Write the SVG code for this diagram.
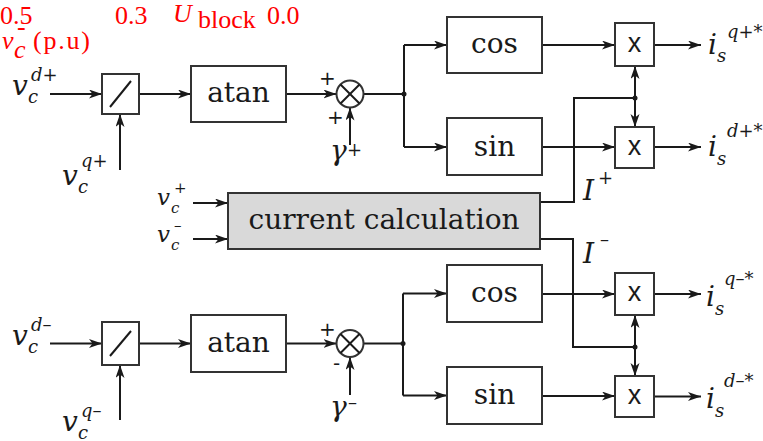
<svg xmlns="http://www.w3.org/2000/svg" width="763" height="441" viewBox="0 0 763 441">
<defs>
<marker id="ah" markerUnits="userSpaceOnUse" markerWidth="14" markerHeight="10" refX="13" refY="4.5" orient="auto-start-reverse">
<path d="M0,0 L13,4.5 L0,9 L3.5,4.5 z" fill="#1a1a1a"/>
</marker>
</defs>
<style>
.box{fill:#fff;stroke:#333;stroke-width:2}
.calc{fill:#d9d9d9;stroke:#333;stroke-width:2}
.ln{fill:none;stroke:#1a1a1a;stroke-width:2}
.ar{fill:none;stroke:#1a1a1a;stroke-width:2;marker-end:url(#ah)}
.lbl{font-family:'DejaVu Serif','Liberation Serif','Noto Serif',serif;font-size:28px;fill:#1a1a1a;text-anchor:middle}
.mul{font-family:'Liberation Sans',Arial,sans-serif;font-size:27px;fill:#1a1a1a;text-anchor:middle}
.m{font-family:'DejaVu Serif','Liberation Serif',serif;font-style:italic;font-size:28px;fill:#1a1a1a}
.ms{font-family:'DejaVu Serif','Liberation Serif',serif;font-style:italic;font-size:18px;fill:#1a1a1a}
.mv{font-family:'DejaVu Serif','Liberation Serif',serif;font-style:italic;font-size:23px;fill:#1a1a1a}
.mvs{font-family:'DejaVu Serif','Liberation Serif',serif;font-style:italic;font-size:15px;fill:#1a1a1a}
.up{font-style:normal}
.sgn{font-family:'DejaVu Sans','Liberation Sans',sans-serif;font-size:20px;fill:#1a1a1a;text-anchor:middle}
.red{font-family:'Liberation Serif','Times New Roman','DejaVu Serif',serif;font-size:26px;fill:#ff0000}
.dot{fill:#1a1a1a}
</style>

<g id="red-labels">
<text class="red" x="0" y="24">0.5</text>
<text class="red" x="115" y="24">0.3</text>
<text class="red" x="173" y="22" font-size="30" font-style="italic">U</text>
<text class="red" x="198" y="28" font-size="22">block</text>
<text class="red" x="267" y="24">0.0</text>
<text class="red" x="2" y="49" font-style="italic">v</text>
<text class="red" x="14" y="58" font-size="17" font-style="italic">c</text>
<text class="red" x="17" y="35" font-size="16">-</text>
<text class="red" x="33" y="49" textLength="57">(p.u)</text>
</g>

<g id="connectors">
<line class="ar" x1="50" y1="94" x2="102" y2="94"/>
<line class="ar" x1="120" y1="170" x2="120" y2="114"/>
<line class="ar" x1="139" y1="94" x2="191" y2="94"/>
<line class="ar" x1="286" y1="94" x2="336.5" y2="94"/>
<line class="ar" x1="350" y1="145" x2="350" y2="107.5"/>
<line class="ln" x1="363.5" y1="94" x2="404" y2="94"/>
<polyline class="ln" points="404,45 404,147"/>
<line class="ar" x1="404" y1="45" x2="447" y2="45"/>
<line class="ar" x1="404" y1="147" x2="447" y2="147"/>
<line class="ar" x1="542" y1="45" x2="615" y2="45"/>
<line class="ar" x1="542" y1="147" x2="615" y2="147"/>
<line class="ar" x1="654" y1="45" x2="701" y2="45"/>
<line class="ar" x1="654" y1="147" x2="701" y2="147"/>
<polyline class="ln" points="540,202 574,202 574,98 635,98"/>
<line class="ar" x1="635" y1="98" x2="635" y2="66"/>
<line class="ar" x1="635" y1="98" x2="635" y2="127"/>
<line class="ar" x1="193" y1="203" x2="228" y2="203"/>
<line class="ar" x1="193" y1="239" x2="228" y2="239"/>
<polyline class="ln" points="540,239 573,239 573,347 635,347"/>
<line class="ar" x1="635" y1="347" x2="635" y2="315"/>
<line class="ar" x1="635" y1="347" x2="635" y2="376"/>
<line class="ar" x1="50" y1="343.5" x2="102" y2="343.5"/>
<line class="ar" x1="120" y1="420" x2="120" y2="365"/>
<line class="ar" x1="139" y1="343.5" x2="191" y2="343.5"/>
<line class="ar" x1="286" y1="343.5" x2="336.5" y2="343.5"/>
<line class="ar" x1="350" y1="395" x2="350" y2="357"/>
<line class="ln" x1="363.5" y1="343.5" x2="403" y2="343.5"/>
<polyline class="ln" points="403,293.5 403,395.5"/>
<line class="ar" x1="403" y1="293.5" x2="447" y2="293.5"/>
<line class="ar" x1="403" y1="395.5" x2="447" y2="395.5"/>
<line class="ar" x1="542" y1="294" x2="615" y2="294"/>
<line class="ar" x1="542" y1="396" x2="615" y2="396"/>
<line class="ar" x1="654" y1="294" x2="701" y2="294"/>
<line class="ar" x1="654" y1="396.5" x2="701" y2="396.5"/>
<circle class="dot" cx="404" cy="94" r="2.5"/>
<circle class="dot" cx="635" cy="98" r="2.5"/>
<circle class="dot" cx="403" cy="343.5" r="2.5"/>
<circle class="dot" cx="635" cy="347" r="2.5"/>
</g>

<g id="div-top">
<rect class="box" x="102" y="74" width="37" height="40"/>
<line class="ln" x1="110" y1="107" x2="131" y2="81"/>
</g>
<g id="atan-top">
<rect class="box" x="191" y="66" width="95" height="56"/>
<text class="lbl" x="238.5" y="102">atan</text>
</g>
<g id="sum-top">
<circle class="box" cx="350" cy="94" r="13.5"/>
<line class="ln" x1="340.5" y1="84.5" x2="359.5" y2="103.5"/>
<line class="ln" x1="359.5" y1="84.5" x2="340.5" y2="103.5"/>
<text class="sgn" x="327.5" y="84.5">+</text>
<text class="sgn" x="335.5" y="123.5">+</text>
</g>
<g id="cos-top">
<rect class="box" x="447" y="17" width="95" height="56"/>
<text class="lbl" x="494.5" y="53">cos</text>
</g>
<g id="sin-top">
<rect class="box" x="447" y="118" width="95" height="57"/>
<text class="lbl" x="494.5" y="156">sin</text>
</g>
<g id="mul-q-plus">
<rect class="box" x="615" y="23" width="39" height="43"/>
<text class="mul" x="634.5" y="52">x</text>
</g>
<g id="mul-d-plus">
<rect class="box" x="615" y="127" width="39" height="41"/>
<text class="mul" x="634.5" y="155">x</text>
</g>
<g id="current-calc">
<rect class="calc" x="228" y="193" width="312" height="56"/>
<text class="lbl" x="384" y="229">current calculation</text>
</g>
<g id="div-bot">
<rect class="box" x="102" y="322" width="37" height="43"/>
<line class="ln" x1="110" y1="356" x2="131" y2="331"/>
</g>
<g id="atan-bot">
<rect class="box" x="191" y="315" width="95" height="57"/>
<text class="lbl" x="238.5" y="352">atan</text>
</g>
<g id="sum-bot">
<circle class="box" cx="350" cy="343.5" r="13.5"/>
<line class="ln" x1="340.5" y1="334" x2="359.5" y2="353"/>
<line class="ln" x1="359.5" y1="334" x2="340.5" y2="353"/>
<text class="sgn" x="327.5" y="335.5">+</text>
<text class="sgn" x="336.5" y="370">-</text>
</g>
<g id="cos-bot">
<rect class="box" x="447" y="265" width="95" height="57"/>
<text class="lbl" x="494.5" y="302">cos</text>
</g>
<g id="sin-bot">
<rect class="box" x="447" y="367" width="95" height="57"/>
<text class="lbl" x="494.5" y="404">sin</text>
</g>
<g id="mul-q-minus">
<rect class="box" x="615" y="273" width="39" height="42"/>
<text class="mul" x="634.5" y="301">x</text>
</g>
<g id="mul-d-minus">
<rect class="box" x="615" y="376" width="39" height="41"/>
<text class="mul" x="634.5" y="404">x</text>
</g>

<g id="math-labels">
<text class="m" x="12" y="95">v</text><text class="ms" x="28" y="103">c</text><text class="ms" x="31" y="81">d<tspan class="up">+</tspan></text>
<text class="m" x="62" y="185">v</text><text class="ms" x="78" y="193">c</text><text class="ms" x="81" y="167">q<tspan class="up">+</tspan></text>
<text class="m" x="12" y="345">v</text><text class="ms" x="28" y="353">c</text><text class="ms" x="31" y="331">d<tspan class="up">–</tspan></text>
<text class="m" x="62" y="431">v</text><text class="ms" x="78" y="439">c</text><text class="ms" x="81" y="417">q<tspan class="up">–</tspan></text>
<text class="m" x="330" y="160">γ</text><text class="ms" x="347" y="156"><tspan class="up">+</tspan></text>
<text class="m" x="330" y="416">γ</text><text class="ms" x="348" y="409"><tspan class="up">–</tspan></text>
<text class="mv" x="157" y="205">v</text><text class="mvs" x="171" y="213">c</text><text class="mvs" x="174" y="193"><tspan class="up">+</tspan></text>
<text class="mv" x="157" y="242">v</text><text class="mvs" x="171" y="250">c</text><text class="mvs" x="174" y="230"><tspan class="up">–</tspan></text>
<text class="m" x="583" y="200" font-size="30">I</text><text class="ms" x="598" y="184"><tspan class="up">+</tspan></text>
<text class="m" x="583" y="263" font-size="30">I</text><text class="ms" x="600" y="246"><tspan class="up">–</tspan></text>
<text class="m" x="708" y="54">i</text><text class="ms" x="717" y="62">s</text><text class="ms" x="727" y="38">q<tspan class="up">+*</tspan></text>
<text class="m" x="708" y="156">i</text><text class="ms" x="717" y="165">s</text><text class="ms" x="727" y="137">d<tspan class="up">+*</tspan></text>
<text class="m" x="706" y="306">i</text><text class="ms" x="715" y="315">s</text><text class="ms" x="724" y="285">q<tspan class="up">–*</tspan></text>
<text class="m" x="706" y="408">i</text><text class="ms" x="715" y="417">s</text><text class="ms" x="724" y="387">d<tspan class="up">–*</tspan></text>
</g>
</svg>
